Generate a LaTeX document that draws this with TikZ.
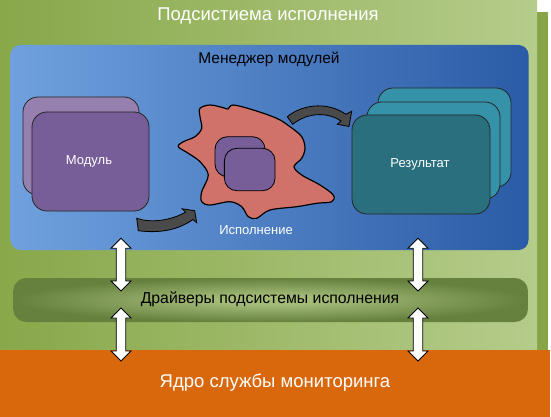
\documentclass[tikz,border=0pt]{standalone}
\usepackage{fontspec}
\setmainfont{Liberation Sans}
\usetikzlibrary{calc}
\definecolor{gdark}{HTML}{88A84A}
\definecolor{glight}{HTML}{B5CC8A}
\definecolor{gstrip}{HTML}{87A548}
\definecolor{bleft}{HTML}{70A1DE}
\definecolor{bright}{HTML}{2A5BA6}
\definecolor{drvout}{HTML}{66803E}
\definecolor{drvin}{HTML}{A4BC78}
\definecolor{orng}{HTML}{D9670C}
\definecolor{purpL}{HTML}{9580B0}
\definecolor{purpD}{HTML}{775E98}
\definecolor{tealL}{HTML}{3592A9}
\definecolor{tealD}{HTML}{2A6F7D}
\definecolor{blobc}{HTML}{D0726A}
\definecolor{darr}{HTML}{4A4A4A}
\pgfdeclareradialshading{glow}{\pgfpointorigin}{color(0bp)=(drvin); color(5bp)=(drvin); color(25bp)=(drvout); color(50bp)=(drvout)}
\tikzset{
  panel/.style={inner sep=0pt, draw=none},
  card/.style={inner sep=0pt, draw=black!85, line width=0.8pt, rounded corners=15pt},
  smallcard/.style={inner sep=0pt, draw=black, line width=0.8pt, rounded corners=12.5pt, fill=purpD},
  lbl/.style={text=white, font=\fontsize{13}{15}\selectfont, inner sep=0pt},
  bigw/.style={text=white, font=\fontsize{18.5}{22}\selectfont, inner sep=0pt},
  blk/.style={text=black, font=\fontsize{15.5}{18}\selectfont, inner sep=0pt},
  dblarr/.style={fill=white, draw=black, line width=0.8pt, line join=miter},
  bentarr/.style={fill=darr, draw=black, line width=0.8pt, line join=miter},
}
\begin{document}
\begin{tikzpicture}[x=1pt,y=-1pt]
\useasboundingbox (0,0) rectangle (551,417);
\fill[white] (0,0) rectangle (551,417);
% shadow strip
\fill[gstrip] (537,12.3) rectangle (548,350);
% subsystem panel
\node[panel, minimum width=537pt, minimum height=349pt, left color=gdark, right color=glight] (sub) at (268.5,175.5) {};
\node[bigw] (subt) at (268,16) {Подсистиема исполнения};
% module manager panel
\node[panel, rounded corners=10pt, minimum width=518pt, minimum height=205pt, left color=bleft, right color=bright] (mgr) at (269.5,147.5) {};
\node[blk] (mgrt) at (269,59) {Менеджер модулей};
% module stack
\node[card, fill=purpL, minimum width=116pt, minimum height=98pt] (modb) at (81,146) {};
\node[card, fill=purpD, minimum width=117pt, minimum height=99pt] (mod) at (90.5,161.5) {};
\node[lbl] (modt) at (89,161) {Модуль};
% execution blob
\draw[fill=blobc, draw=black, line width=1.2pt] plot[smooth cycle, tension=0.55] coordinates {
 (200,108.3) (210,105) (223.3,107.7) (228,109) (233.3,105) (253.3,110) (276.7,118.3)
 (290,126.7) (301.7,136.7) (305,148.3) (301.7,158.3) (294,166.7) (301.7,175) (320,185)
 (333.3,195) (331.7,201.7) (316.7,203.3) (296.7,206.7) (270,210) (256.7,218.3)
 (248.3,216.7) (241.7,206.7) (230,201.7) (210,205) (201.7,201.7) (201.7,191.7)
 (208.3,175) (200,161.7) (188.3,153.3) (178.3,146.7) (183.3,141.7) (195,136.7)
 (201.7,128.3) (200,116.7)};
\node[smallcard, minimum width=50pt, minimum height=40pt] (ex1) at (240,156.7) {};
\node[smallcard, minimum width=50.7pt, minimum height=42.4pt] (ex2) at (249.7,169.5) {};
\node[lbl] (exect) at (256,230) {Исполнение};
% result stack
\node[card, fill=tealL, minimum width=133pt, minimum height=99pt] (res3) at (444.5,137.5) {};
\node[card, fill=tealL, minimum width=133pt, minimum height=97pt] (res2) at (433.5,150.5) {};
\node[card, fill=tealD, minimum width=138pt, minimum height=99pt] (res1) at (421,164.5) {};
\node[lbl] (rest) at (420,164) {Результат};
% bent arrows
\coordinate (a1e) at (194.7,210.7);
\draw[bentarr] (136.7,218.3) .. controls (150,223) and (170,221) .. (185.5,212.2)
  -- (182.3,208.8) -- (a1e) -- (196.7,222.7) -- (193,219.5)
  .. controls (178,230) and (160,233.5) .. (138.3,230.7) -- cycle;
\coordinate (a2e) at (349,126.5);
\draw[bentarr] (287.3,116.7) .. controls (300,106) and (325,100) .. (346,114.3)
  -- (351.7,111.2) -- (a2e) -- (337.3,124.3) -- (341,121)
  .. controls (328,112) and (308,112) .. (292.7,124.3) -- cycle;
% drivers band
\node[panel, rounded corners=13pt, minimum width=514.7pt, minimum height=44pt, shading=glow] (drv) at (270.6,300) {};
\node[blk, font=\fontsize{15.8}{18}\selectfont] (drvt) at (270,299) {Драйверы подсистемы исполнения};
% monitoring core
\node[panel, fill=orng, minimum width=550pt, minimum height=67pt] (core) at (275,383.5) {};
\node[bigw] (coret) at (275,383) {Ядро службы мониторинга};
% double arrows
\coordinate (t1) at (121,238.3); \coordinate (b1) at (121,291);
\coordinate (t2) at (121,308);   \coordinate (b2) at (121,361);
\coordinate (t3) at (418,238.3); \coordinate (b3) at (418,291);
\coordinate (t4) at (418,308);   \coordinate (b4) at (418,361);
\foreach \t/\b in {t1/b1,t2/b2,t3/b3,t4/b4}{
  \draw[dblarr] (\t) -- ++(10,10) -- ++(-5.25,0) -- ($(\b)+(4.75,-10)$) -- ++(5.25,0)
    -- (\b) -- ++(-10,-10) -- ++(5.25,0) -- ($(\t)+(-4.75,10)$) -- ++(-5.25,0) -- cycle;
}
\end{tikzpicture}
\end{document}
